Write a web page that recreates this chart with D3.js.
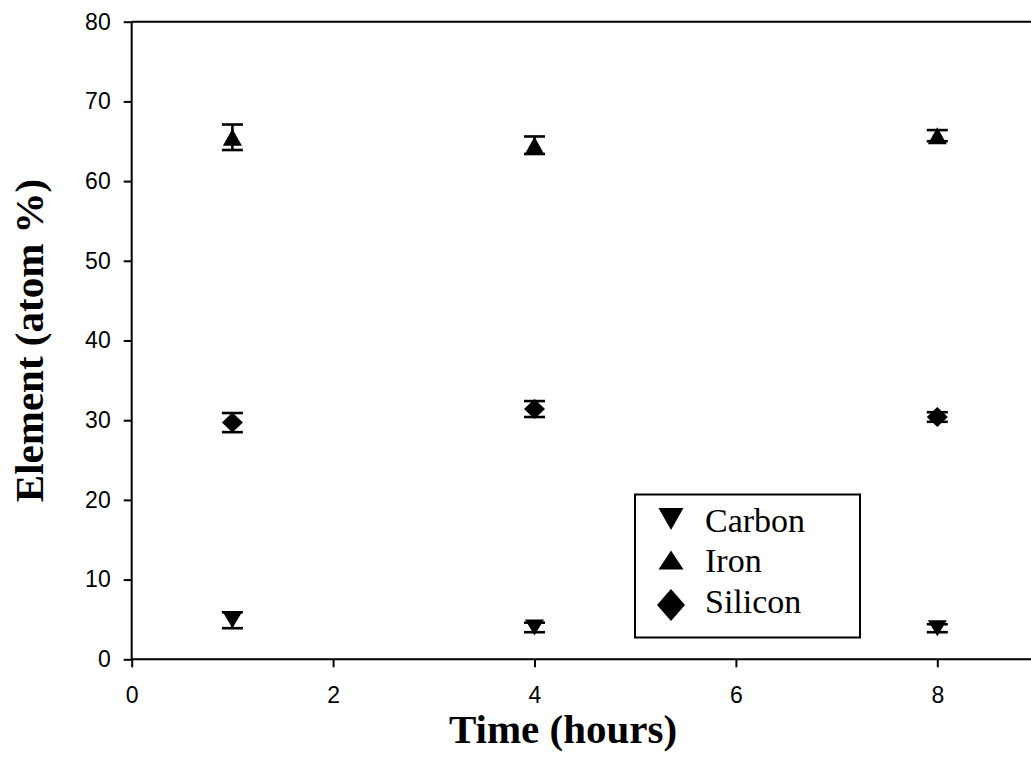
<!DOCTYPE html>
<html>
<head>
<meta charset="utf-8">
<script src="https://cdn.jsdelivr.net/npm/d3@7"></script>
<style>
  html, body { margin: 0; padding: 0; background: #fff; overflow: hidden; }
  svg { display: block; }
</style>
</head>
<body>
<svg id="chart" width="1031" height="765"></svg>
<script>
// Sampling times (hours)
const times = [1, 4, 8];

// Element composition (atom %) with standard deviations
const carbon = [4.9, 4.0, 3.9];
const carbonErr = [1.0, 0.6, 0.5];
const iron = [65.5, 64.5, 65.7];
const ironErr = [1.6, 1.1, 0.7];
const silicon = [29.7, 31.4, 30.4];
const siliconErr = [1.2, 1.0, 0.6];

const xTicks = [0, 2, 4, 6, 8];
const yTicks = [0, 10, 20, 30, 40, 50, 60, 70, 80];

const legendLabels = ["Carbon", "Iron", "Silicon"];

const svg = d3.select("#chart");
const margin = { left: 131.7, top: 21.7 };
const plotH = 637.6;
const plotW = 906.3;

const x = d3.scaleLinear().domain([0, 9]).range([margin.left, margin.left + plotW]);
const y = d3.scaleLinear().domain([0, 80]).range([margin.top + plotH, margin.top]);

// Frame (top and right edges)
svg.append("path")
  .attr("d", `M${x(0)},${y(80)}H${x(9)}V${y(0)}`)
  .attr("fill", "none").attr("stroke", "#000").attr("stroke-width", 2);

// Axes
const xAxis = svg.append("g")
  .attr("transform", `translate(0,${y(0)})`)
  .call(d3.axisBottom(x).tickValues(xTicks).tickSize(8).tickPadding(19).tickFormat(d3.format("d")));
const yAxis = svg.append("g")
  .attr("transform", `translate(${x(0)},0)`)
  .call(d3.axisLeft(y).tickValues(yTicks).tickSize(8).tickPadding(13).tickFormat(d3.format("d")));

[xAxis, yAxis].forEach(g => {
  g.select(".domain").attr("stroke-width", 2).attr("stroke", "#000");
  g.selectAll(".tick line").attr("stroke-width", 2).attr("stroke", "#000");
  g.selectAll(".tick text")
    .attr("font-family", "'Liberation Sans', Arial, sans-serif")
    .attr("font-size", 23).attr("fill", "#000");
});
// Plain axis lines without the outer end ticks
xAxis.select(".domain").attr("d", `M${x(0)},0H${x(9)}`);
yAxis.select(".domain").attr("d", `M0,${y(0)}V${y(80)}`);

// Axis titles
svg.append("text")
  .attr("x", 563).attr("y", 743)
  .attr("text-anchor", "middle")
  .attr("font-family", "'Liberation Serif', 'Times New Roman', serif")
  .attr("font-weight", "bold").attr("font-size", 41)
  .text("Time (hours)");

svg.append("text")
  .attr("transform", `translate(43,${(y(0) + y(80)) / 2}) rotate(-90)`)
  .attr("text-anchor", "middle")
  .attr("font-family", "'Liberation Serif', 'Times New Roman', serif")
  .attr("font-weight", "bold").attr("font-size", 41)
  .text("Element (atom %)");

// Marker shapes
function downTri(w, h) { return `M${-w/2},${-h/2}L${w/2},${-h/2}L0,${h/2}Z`; }
function upTri(w, h) { return `M${-w/2},${h/2}L${w/2},${h/2}L0,${-h/2}Z`; }
function diamond(w, h) { return `M0,${-h/2}L${w/2},0L0,${h/2}L${-w/2},0Z`; }

const series = [
  { name: "Carbon", vals: carbon, errs: carbonErr, shape: downTri(19, 16), legend: downTri(25, 22) },
  { name: "Iron", vals: iron, errs: ironErr, shape: upTri(19, 17), legend: upTri(25, 19) },
  { name: "Silicon", vals: silicon, errs: siliconErr, shape: diamond(21, 20), legend: diamond(28, 32) }
];

const capW = 10.5;
series.forEach(s => {
  const g = svg.append("g");
  const pts = times.map((t, i) => ({ t, v: s.vals[i], e: s.errs[i] }));
  // Error bars
  const eb = g.selectAll("g.err").data(pts).enter().append("g")
    .attr("stroke", "#000").attr("stroke-width", 2.6);
  eb.append("line")
    .attr("x1", d => x(d.t)).attr("x2", d => x(d.t))
    .attr("y1", d => y(d.v + d.e)).attr("y2", d => y(d.v - d.e));
  eb.append("line")
    .attr("x1", d => x(d.t) - capW).attr("x2", d => x(d.t) + capW)
    .attr("y1", d => y(d.v + d.e)).attr("y2", d => y(d.v + d.e));
  eb.append("line")
    .attr("x1", d => x(d.t) - capW).attr("x2", d => x(d.t) + capW)
    .attr("y1", d => y(d.v - d.e)).attr("y2", d => y(d.v - d.e));
  // Markers
  g.selectAll("path.mk").data(pts).enter().append("path")
    .attr("d", s.shape)
    .attr("transform", d => `translate(${x(d.t)},${y(d.v)})`)
    .attr("fill", "#000");
});

// Legend
const lg = svg.append("g");
lg.append("rect")
  .attr("x", 635).attr("y", 494.5).attr("width", 225).attr("height", 143)
  .attr("fill", "#fff").attr("stroke", "#000").attr("stroke-width", 2);
const legendY = [519, 560, 605];
const baseY = [532, 572, 613];
series.forEach((s, i) => {
  lg.append("path").attr("d", s.legend)
    .attr("transform", `translate(671,${legendY[i]})`).attr("fill", "#000");
  lg.append("text")
    .attr("x", 705).attr("y", baseY[i])
    .attr("font-family", "'Liberation Serif', 'Times New Roman', serif")
    .attr("font-size", 34).attr("fill", "#000")
    .text(legendLabels[i]);
});
</script>
</body>
</html>
